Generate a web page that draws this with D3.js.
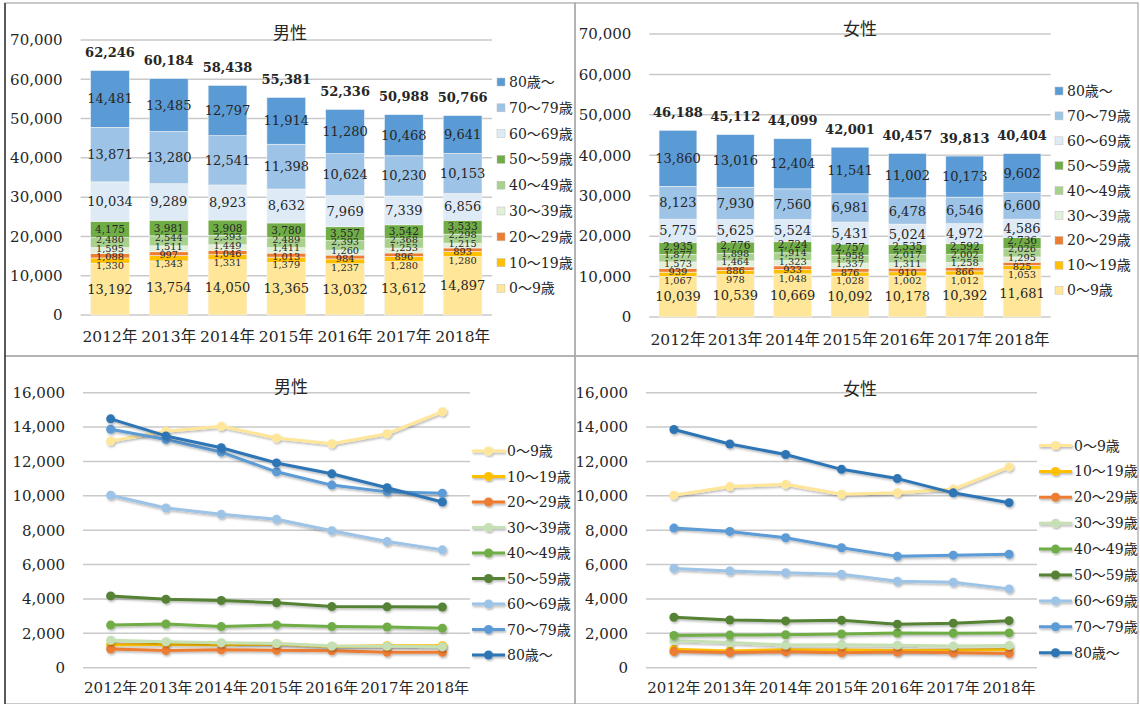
<!DOCTYPE html>
<html>
<head>
<meta charset="utf-8">
<script src="https://d3js.org/d3.v7.min.js"></script>
<style>
  body { margin: 0; background: #fff; }
  text { font-family: "DejaVu Serif", "Noto Sans CJK JP", serif; fill: #262626; }
  .cjk { font-family: "Noto Sans CJK JP", sans-serif; }
</style>
</head>
<body>
<script>
// data
const years = ["2012年", "2013年", "2014年", "2015年", "2016年", "2017年", "2018年"];
const ages = ["0〜9歳", "10〜19歳", "20〜29歳", "30〜39歳", "40〜49歳",
              "50〜59歳", "60〜69歳", "70〜79歳", "80歳〜"];

// male
const m0  = [13192, 13754, 14050, 13365, 13032, 13612, 14897];
const m10 = [1330, 1343, 1331, 1379, 1237, 1280, 1280];
const m20 = [1088, 997, 1046, 1013, 984, 896, 893];
const m30 = [1595, 1511, 1449, 1411, 1260, 1253, 1215];
const m40 = [2480, 2544, 2393, 2489, 2393, 2368, 2298];
const m50 = [4175, 3981, 3908, 3780, 3557, 3542, 3533];
const m60 = [10034, 9289, 8923, 8632, 7969, 7339, 6856];
const m70 = [13871, 13280, 12541, 11398, 10624, 10230, 10153];
const m80 = [14481, 13485, 12797, 11914, 11280, 10468, 9641];

// female
const f0  = [10039, 10539, 10669, 10092, 10178, 10392, 11681];
const f10 = [1067, 978, 1048, 1028, 1002, 1012, 1053];
const f20 = [939, 886, 933, 876, 910, 866, 825];
const f30 = [1573, 1464, 1323, 1337, 1311, 1258, 1295];
const f40 = [1877, 1898, 1914, 1958, 2017, 2002, 2026];
const f50 = [2935, 2776, 2724, 2757, 2535, 2592, 2736];
const f60 = [5775, 5625, 5524, 5431, 5024, 4972, 4586];
const f70 = [8123, 7930, 7560, 6981, 6478, 6546, 6600];
const f80 = [13860, 13016, 12404, 11541, 11002, 10173, 9602];

const barTicks = [0, 10000, 20000, 30000, 40000, 50000, 60000, 70000];
const lineTicks = [0, 2000, 4000, 6000, 8000, 10000, 12000, 14000, 16000];

const barColors  = ["#FFE699", "#FFC000", "#ED7D31", "#E2F0D9", "#A9D18E",
                    "#70AD47", "#DEEBF7", "#9DC3E6", "#5B9BD5"];
const lineColors = ["#FFE699", "#FFC000", "#ED7D31", "#C5E0B4", "#70AD47",
                    "#548235", "#9DC3E6", "#5B9BD5", "#2E75B6"];

const male = [m0, m10, m20, m30, m40, m50, m60, m70, m80];
const female = [f0, f10, f20, f30, f40, f50, f60, f70, f80];

const fmt = d3.format(",");

const svg = d3.select("body").append("svg")
  .attr("width", 1140).attr("height", 704);

const defs = svg.append("defs");
defs.append("filter").attr("id", "sh")
  .attr("x", "-10%").attr("y", "-10%").attr("width", "120%").attr("height", "130%")
  .append("feDropShadow")
  .attr("dx", 1).attr("dy", 1.5).attr("stdDeviation", 0.8)
  .attr("flood-color", "#000").attr("flood-opacity", 0.3);

// panel frames
const frames = [[5, 3, 570, 353], [575, 3, 563, 353], [5, 356, 570, 348], [575, 356, 563, 348]];
frames.forEach(f => svg.append("rect")
  .attr("x", f[0]).attr("y", f[1]).attr("width", f[2]).attr("height", f[3])
  .attr("fill", "none").attr("stroke", "#a6a6a6").attr("stroke-width", 1.2));
svg.append("line").attr("x1", 5).attr("x2", 5).attr("y1", 3).attr("y2", 704)
  .attr("stroke", "#333").attr("stroke-width", 1.5);

function grid(g, y, ticks, x0, x1) {
  g.selectAll(".grid").data(ticks).enter().append("line")
    .attr("x1", x0).attr("x2", x1)
    .attr("y1", d => y(d)).attr("y2", d => y(d))
    .attr("stroke", "#c9c9c9").attr("stroke-width", 1.5);
  const ax = d3.axisLeft(y).tickValues(ticks).tickFormat(fmt).tickSize(0).tickPadding(18);
  const a = g.append("g").attr("transform", `translate(${x0},0)`).call(ax);
  a.select(".domain").remove();
  a.selectAll("text").attr("font-size", 15).attr("fill", "#262626")
    .style("font-family", "'DejaVu Serif', serif");
}

// spread the labels of the thin segments so they don't sit on each other
function spread(pos) {
  const gap = i => (i === 0 ? 12 : 8.6);
  for (let it = 0; it < 40; it++) {
    for (let i = 0; i < 5; i++) {
      const d = pos[i] - pos[i + 1];
      const need = gap(i);
      if (d < need) {
        const s = (need - d) / 2;
        pos[i] += s;
        pos[i + 1] -= s;
      }
    }
  }
  return pos;
}

function drawBars(c) {
  const g = svg.append("g");
  const x = d3.scaleBand().domain(years).range([c.x0, c.x1]).paddingInner(0.34).paddingOuter(0.17);
  const y = d3.scaleLinear().domain([0, 70000]).range([c.yb, c.yt]);
  grid(g, y, barTicks, c.x0, c.x1);

  years.forEach((yr, j) => {
    let acc = 0;
    const mids = [];
    c.data.forEach((s, i) => {
      const v = s[j];
      const top = y(acc + v), bot = y(acc);
      g.append("rect")
        .attr("x", x(yr)).attr("width", x.bandwidth())
        .attr("y", top).attr("height", bot - top)
        .attr("fill", barColors[i])
        .attr("stroke", "#f4f4f4").attr("stroke-width", 0.6);
      mids.push((top + bot) / 2);
      acc += v;
    });
    const pos = spread(mids.slice());
    c.data.forEach((s, i) => {
      const small = i >= 1 && i <= 5;
      g.append("text")
        .attr("x", x(yr) + x.bandwidth() / 2).attr("y", pos[i])
        .attr("text-anchor", "middle").attr("dominant-baseline", "central")
        .attr("font-size", small ? (i === 5 ? 10.5 : 9.8) : 13)
        .attr("fill", "#1a1a1a")
        .text(fmt(s[j]));
    });
    g.append("text")
      .attr("x", x(yr) + x.bandwidth() / 2).attr("y", y(acc) - 18)
      .attr("text-anchor", "middle").attr("dominant-baseline", "central")
      .attr("font-size", 13).attr("font-weight", "bold").attr("fill", "#111")
      .text(fmt(acc));
  });

  g.selectAll(".xl").data(years).enter().append("text")
    .attr("x", d => x(d) + x.bandwidth() / 2).attr("y", c.xly)
    .attr("text-anchor", "middle").attr("dominant-baseline", "central")
    .attr("font-size", 15.5).text(d => d);

  g.append("text").attr("class", "cjk")
    .attr("x", c.tx).attr("y", c.ty)
    .attr("text-anchor", "middle").attr("dominant-baseline", "central")
    .attr("font-size", 17).text(c.title);

  // legend, top to bottom: oldest first
  ages.slice().reverse().forEach((a, k) => {
    const i = ages.length - 1 - k;
    const ly = c.ly + k * c.lstep;
    g.append("rect").attr("x", c.lx).attr("y", ly - 4).attr("width", 8).attr("height", 8)
      .attr("fill", barColors[i]).attr("stroke", "#bfbfbf").attr("stroke-width", 0.5);
    g.append("text").attr("x", c.lx + 12).attr("y", ly)
      .attr("dominant-baseline", "central").attr("font-size", 14).text(a);
  });
}

function drawLines(c) {
  const g = svg.append("g");
  const x = d3.scalePoint().domain(years).range([c.x0, c.x1]).padding(0.5);
  const y = d3.scaleLinear().domain([0, 16000]).range([c.yb, c.yt]);
  grid(g, y, lineTicks, c.x0, c.x1);

  const line = d3.line().x((d, j) => x(years[j])).y(d => y(d));
  c.data.forEach((s, i) => {
    const sg = g.append("g").attr("filter", "url(#sh)");
    sg.append("path").attr("d", line(s))
      .attr("fill", "none").attr("stroke", lineColors[i]).attr("stroke-width", 3)
      .attr("stroke-linejoin", "round");
    sg.selectAll("circle").data(s).enter().append("circle")
      .attr("cx", (d, j) => x(years[j])).attr("cy", d => y(d)).attr("r", 4.5)
      .attr("fill", lineColors[i]);
  });

  g.selectAll(".xl").data(years).enter().append("text")
    .attr("x", d => x(d)).attr("y", c.xly)
    .attr("text-anchor", "middle").attr("dominant-baseline", "central")
    .attr("font-size", 15).text(d => d);

  g.append("text").attr("class", "cjk")
    .attr("x", c.tx).attr("y", c.ty)
    .attr("text-anchor", "middle").attr("dominant-baseline", "central")
    .attr("font-size", 17).text(c.title);

  ages.forEach((a, i) => {
    const ly = c.ly + i * c.lstep;
    const lg = g.append("g").attr("filter", "url(#sh)");
    lg.append("line").attr("x1", c.lx).attr("x2", c.lx + 33).attr("y1", ly).attr("y2", ly)
      .attr("stroke", lineColors[i]).attr("stroke-width", 3);
    lg.append("circle").attr("cx", c.lx + 16.5).attr("cy", ly).attr("r", 4.5)
      .attr("fill", lineColors[i]);
    g.append("text").attr("x", c.lx + 35).attr("y", ly)
      .attr("dominant-baseline", "central").attr("font-size", 14).text(a);
  });
}

drawBars({ data: male, title: "男性", x0: 80.6, x1: 492, yb: 315, yt: 40, xly: 337,
           tx: 290, ty: 31, lx: 497, ly: 82, lstep: 25.8 });
drawBars({ data: female, title: "女性", x0: 649.3, x1: 1050.7, yb: 317, yt: 34, xly: 340,
           tx: 860, ty: 27, lx: 1055, ly: 91, lstep: 24.9 });
drawLines({ data: male, title: "男性", x0: 83, x1: 470, yb: 667.7, yt: 392.7, xly: 688,
            tx: 291, ty: 385, lx: 472, ly: 451, lstep: 25.5 });
drawLines({ data: female, title: "女性", x0: 646, x1: 1037, yb: 667.7, yt: 392.7, xly: 688,
            tx: 860, ty: 387, lx: 1039, ly: 445.5, lstep: 25.9 });
</script>
</body>
</html>
